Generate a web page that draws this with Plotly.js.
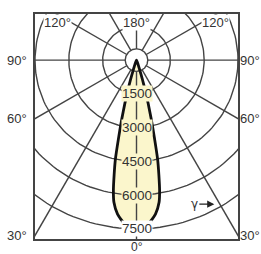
<!DOCTYPE html>
<html><head><meta charset="utf-8">
<script src="https://cdn.plot.ly/plotly-3.0.1.min.js"></script>
<style>html,body{margin:0;padding:0;background:#fff}#chart{width:261px;height:254px}</style>
</head><body><div id="chart"></div>
<script>
// Luminous intensity (cd) vs gamma angle (deg), one half of a symmetric C-plane
const gammaDeg  = [0,    4,    7,    9,    10,   11,   12,   13,   14,   15,   16,   17,  18,  20,  22];
const intensity = [7400, 7300, 6900, 6400, 5900, 5200, 4500, 3500, 2700, 2000, 1400, 900, 500, 200, 0];

const ringValues = [500, 1500, 3000, 4500, 6000, 7500];
const ringLabelValues = [1500, 3000, 4500, 6000, 7500];
const ringLabels = ['1500', '3000', '4500', '6000', '7500'];
const spokeAngles = [0, 30, 60, 90, 120, 150, 180, 210, 240, 270, 300, 330];
const sideLabels = ['90°', '60°', '30°'];
const sideLabelAngles = [90, 60, 30];
const topLabels = ['120°', '180°', '120°'];
const topLabelAngles = [-120, 180, 120];
const bottomLabel = '0°';

const GRID = '#444', FILL = 'rgb(251,246,204)', TXT = '#333';
const rad = d => d * Math.PI / 180;
const px = (r, a) => r * Math.sin(rad(a));
const py = (r, a) => -r * Math.cos(rad(a));

const XR = [-4500, 4500], YR = [-7950, 2050];

// full closed curve (mirror the half plane)
const curveA = [], curveR = [];
for (let i = gammaDeg.length - 1; i >= 0; i--) { curveA.push(-gammaDeg[i]); curveR.push(intensity[i]); }
for (let i = 1; i < gammaDeg.length; i++) { curveA.push(gammaDeg[i]); curveR.push(intensity[i]); }
const cx = curveR.map((r, i) => px(r, curveA[i]));
const cy = curveR.map((r, i) => py(r, curveA[i]));

const traces = [];
traces.push({x: cx, y: cy, mode: 'lines', fill: 'toself', fillcolor: FILL, line: {width: 0}, hoverinfo: 'skip', showlegend: false});
ringValues.forEach(r => {
  const xs = [], ys = [];
  for (let a = 0; a <= 360; a += 2) { xs.push(px(r, a)); ys.push(py(r, a)); }
  traces.push({x: xs, y: ys, mode: 'lines', line: {color: GRID, width: 1.4}, hoverinfo: 'skip', showlegend: false});
});
spokeAngles.forEach(a => {
  traces.push({x: [px(500, a), px(12000, a)], y: [py(500, a), py(12000, a)], mode: 'lines', line: {color: GRID, width: 1.4}, hoverinfo: 'skip', showlegend: false});
});
traces.push({x: cx, y: cy, mode: 'lines', line: {color: '#111', width: 2.8, shape: 'spline', smoothing: 0.6}, hoverinfo: 'skip', showlegend: false});

const W = 261, H = 254, L = 35, R = 23, T = 14, B = 15;
const pw = W - L - R, ph = H - T - B;
const sx = pw / (XR[1] - XR[0]), sy = ph / (YR[1] - YR[0]);
const cpx = L + (0 - XR[0]) * sx, cpy = T + (YR[1] - 0) * sy;

const ann = [];
const f13 = {family: 'Liberation Sans, Arial, sans-serif', size: 13, color: TXT};
ringLabelValues.forEach((v, i) => {
  ann.push({x: 0, y: -v, xref: 'x', yref: 'y', text: ringLabels[i], showarrow: false,
    font: {family: 'Liberation Sans, Arial, sans-serif', size: 13.5, color: TXT},
    bgcolor: i === ringLabels.length - 1 ? '#fff' : FILL, borderpad: 0});
});
sideLabelAngles.forEach((a, i) => {
  const yPix = a === 90 ? cpy : cpy + (cpx - L) / Math.tan(rad(a));
  const yp = (H - B - yPix) / ph;
  ann.push({x: -0.09, y: yp, xref: 'paper', yref: 'paper', text: sideLabels[i], showarrow: false, font: f13, xanchor: 'center', yanchor: 'middle'});
  ann.push({x: 1.06, y: yp, xref: 'paper', yref: 'paper', text: sideLabels[i], showarrow: false, font: f13, xanchor: 'center', yanchor: 'middle'});
});
topLabelAngles.forEach((a, i) => {
  const yv = 1680;
  const xv = a === 180 ? 0 : (a < 0 ? -3500 : 3500);
  ann.push({x: xv, y: yv, xref: 'x', yref: 'y', text: topLabels[i], showarrow: false, font: f13, bgcolor: '#fff', borderpad: 0});
});
ann.push({x: 0.5, y: -0.034, xref: 'paper', yref: 'paper', text: bottomLabel, showarrow: false,
  font: {family: 'Liberation Sans, Arial, sans-serif', size: 12, color: TXT}, xanchor: 'center', yanchor: 'middle'});
ann.push({x: 3450, y: -6400, xref: 'x', yref: 'y', text: 'γ', showarrow: true, ax: -20, ay: 0,
  arrowhead: 2, arrowsize: 1.1, arrowwidth: 1.3, arrowcolor: '#222', standoff: 0,
  font: {family: 'DejaVu Sans, sans-serif', size: 12, color: TXT}});

const layout = {
  width: W, height: H, margin: {l: L, r: R, t: T, b: B},
  paper_bgcolor: '#fff', plot_bgcolor: '#fff', showlegend: false,
  xaxis: {range: XR, showgrid: false, zeroline: false, showticklabels: false, ticks: '',
    showline: true, mirror: true, linecolor: '#444', linewidth: 2},
  yaxis: {range: YR, showgrid: false, zeroline: false, showticklabels: false, ticks: '',
    showline: true, mirror: true, linecolor: '#444', linewidth: 2},
  annotations: ann
};
Plotly.newPlot('chart', traces, layout, {displayModeBar: false, staticPlot: true});
</script></body></html>
